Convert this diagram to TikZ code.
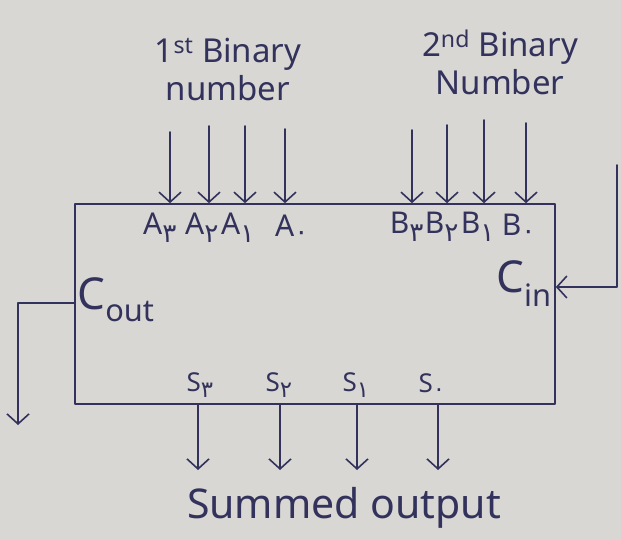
\documentclass[tikz,border=0pt]{standalone}
\usepackage{fontspec}
\setmainfont{Noto Sans}
\newfontfamily\digitfont[Script=Arabic,Scale=1.25]{DejaVu Sans}
\usetikzlibrary{arrows.meta}
\definecolor{paper}{RGB}{216,215,211}
\definecolor{ink}{RGB}{50,50,92}
% Eastern Arabic digit used as a bit index
\newcommand{\bitidx}[1]{\textsubscript{\digitfont #1}}
\begin{document}
\begin{tikzpicture}[x=1pt,y=-1pt,
  wire/.style={draw=ink, line width=1.6pt, line cap=round, line join=round},
  arr/.style={wire, -{Straight Barb[length=10pt,width=22pt]}},
  heading/.style={text=ink, align=center, font=\fontsize{33}{38}\selectfont},
  pin/.style={text=ink, inner sep=0pt, font=\fontsize{30}{34}\selectfont},
  outpin/.style={text=ink, inner sep=0pt, font=\fontsize{26}{30}\selectfont},
  carry/.style={text=ink, inner sep=0pt, font=\fontsize{44}{48}\selectfont},
  caption/.style={text=ink, font=\fontsize{41}{46}\selectfont}]

% paper
\fill[paper] (0,0) rectangle (621,540);
\useasboundingbox (0,0) rectangle (621,540);

% adder block
\node[wire, minimum width=480pt, minimum height=200pt, inner sep=0pt] (adder) at (315,304) {};

% operand headings
\node[heading] (numA) at (228,70) {1\textsuperscript{st} Binary\\number};
\node[heading] (numB) at (500,62) {2\textsuperscript{nd} Binary\\Number};

% input bit lines of the first number
\coordinate (a3) at (170,132);
\coordinate (a2) at (209,126);
\coordinate (a1) at (245,126);
\coordinate (a0) at (285,129);
\foreach \p in {a3,a2,a1,a0} \draw[arr] (\p) -- (\p |- adder.north);

% input bit lines of the second number
\coordinate (b3) at (412,130);
\coordinate (b2) at (447,125);
\coordinate (b1) at (484,120);
\coordinate (b0) at (526,123);
\foreach \p in {b3,b2,b1,b0} \draw[arr] (\p) -- (\p |- adder.north);

% pin labels
\node[pin] (la3) at (160,228) {A\bitidx{٣}};
\node[pin] (la2) at (202,228) {A\bitidx{٢}};
\node[pin] (la1) at (238,228) {A\bitidx{١}};
\node[pin] (la0) at (292,228) {A\bitidx{٠}};
\node[pin] (lb3) at (407,227) {B\bitidx{٣}};
\node[pin] (lb2) at (442,227) {B\bitidx{٢}};
\node[pin] (lb1) at (478,227) {B\bitidx{١}};
\node[pin] (lb0) at (519,227) {B\bitidx{٠}};

% carry in / carry out
\node[carry] (cin) at (524,284) {C\textsubscript{in}};
\node[carry] (cout) at (116,300) {C\textsubscript{out}};
\coordinate (cinsrc) at (617,165);
\draw[arr] (cinsrc) |- ([yshift=17pt]adder.east);
\coordinate (coutdst) at (18,425);
\draw[arr] ([yshift=1pt]adder.west) -| (coutdst);

% sum bits
\node[outpin] (ls3) at (200,385) {S\bitidx{٣}};
\node[outpin] (ls2) at (279,385) {S\bitidx{٢}};
\node[outpin] (ls1) at (356,385) {S\bitidx{١}};
\node[outpin] (ls0) at (432,385) {S\bitidx{٠}};
\coordinate (s3) at (198,470);
\coordinate (s2) at (280,470);
\coordinate (s1) at (357,470);
\coordinate (s0) at (438,470);
\foreach \p in {s3,s2,s1,s0} \draw[arr] (\p |- adder.south) -- (\p);

\node[caption] (sum) at (344,508) {Summed output};
\end{tikzpicture}
\end{document}
